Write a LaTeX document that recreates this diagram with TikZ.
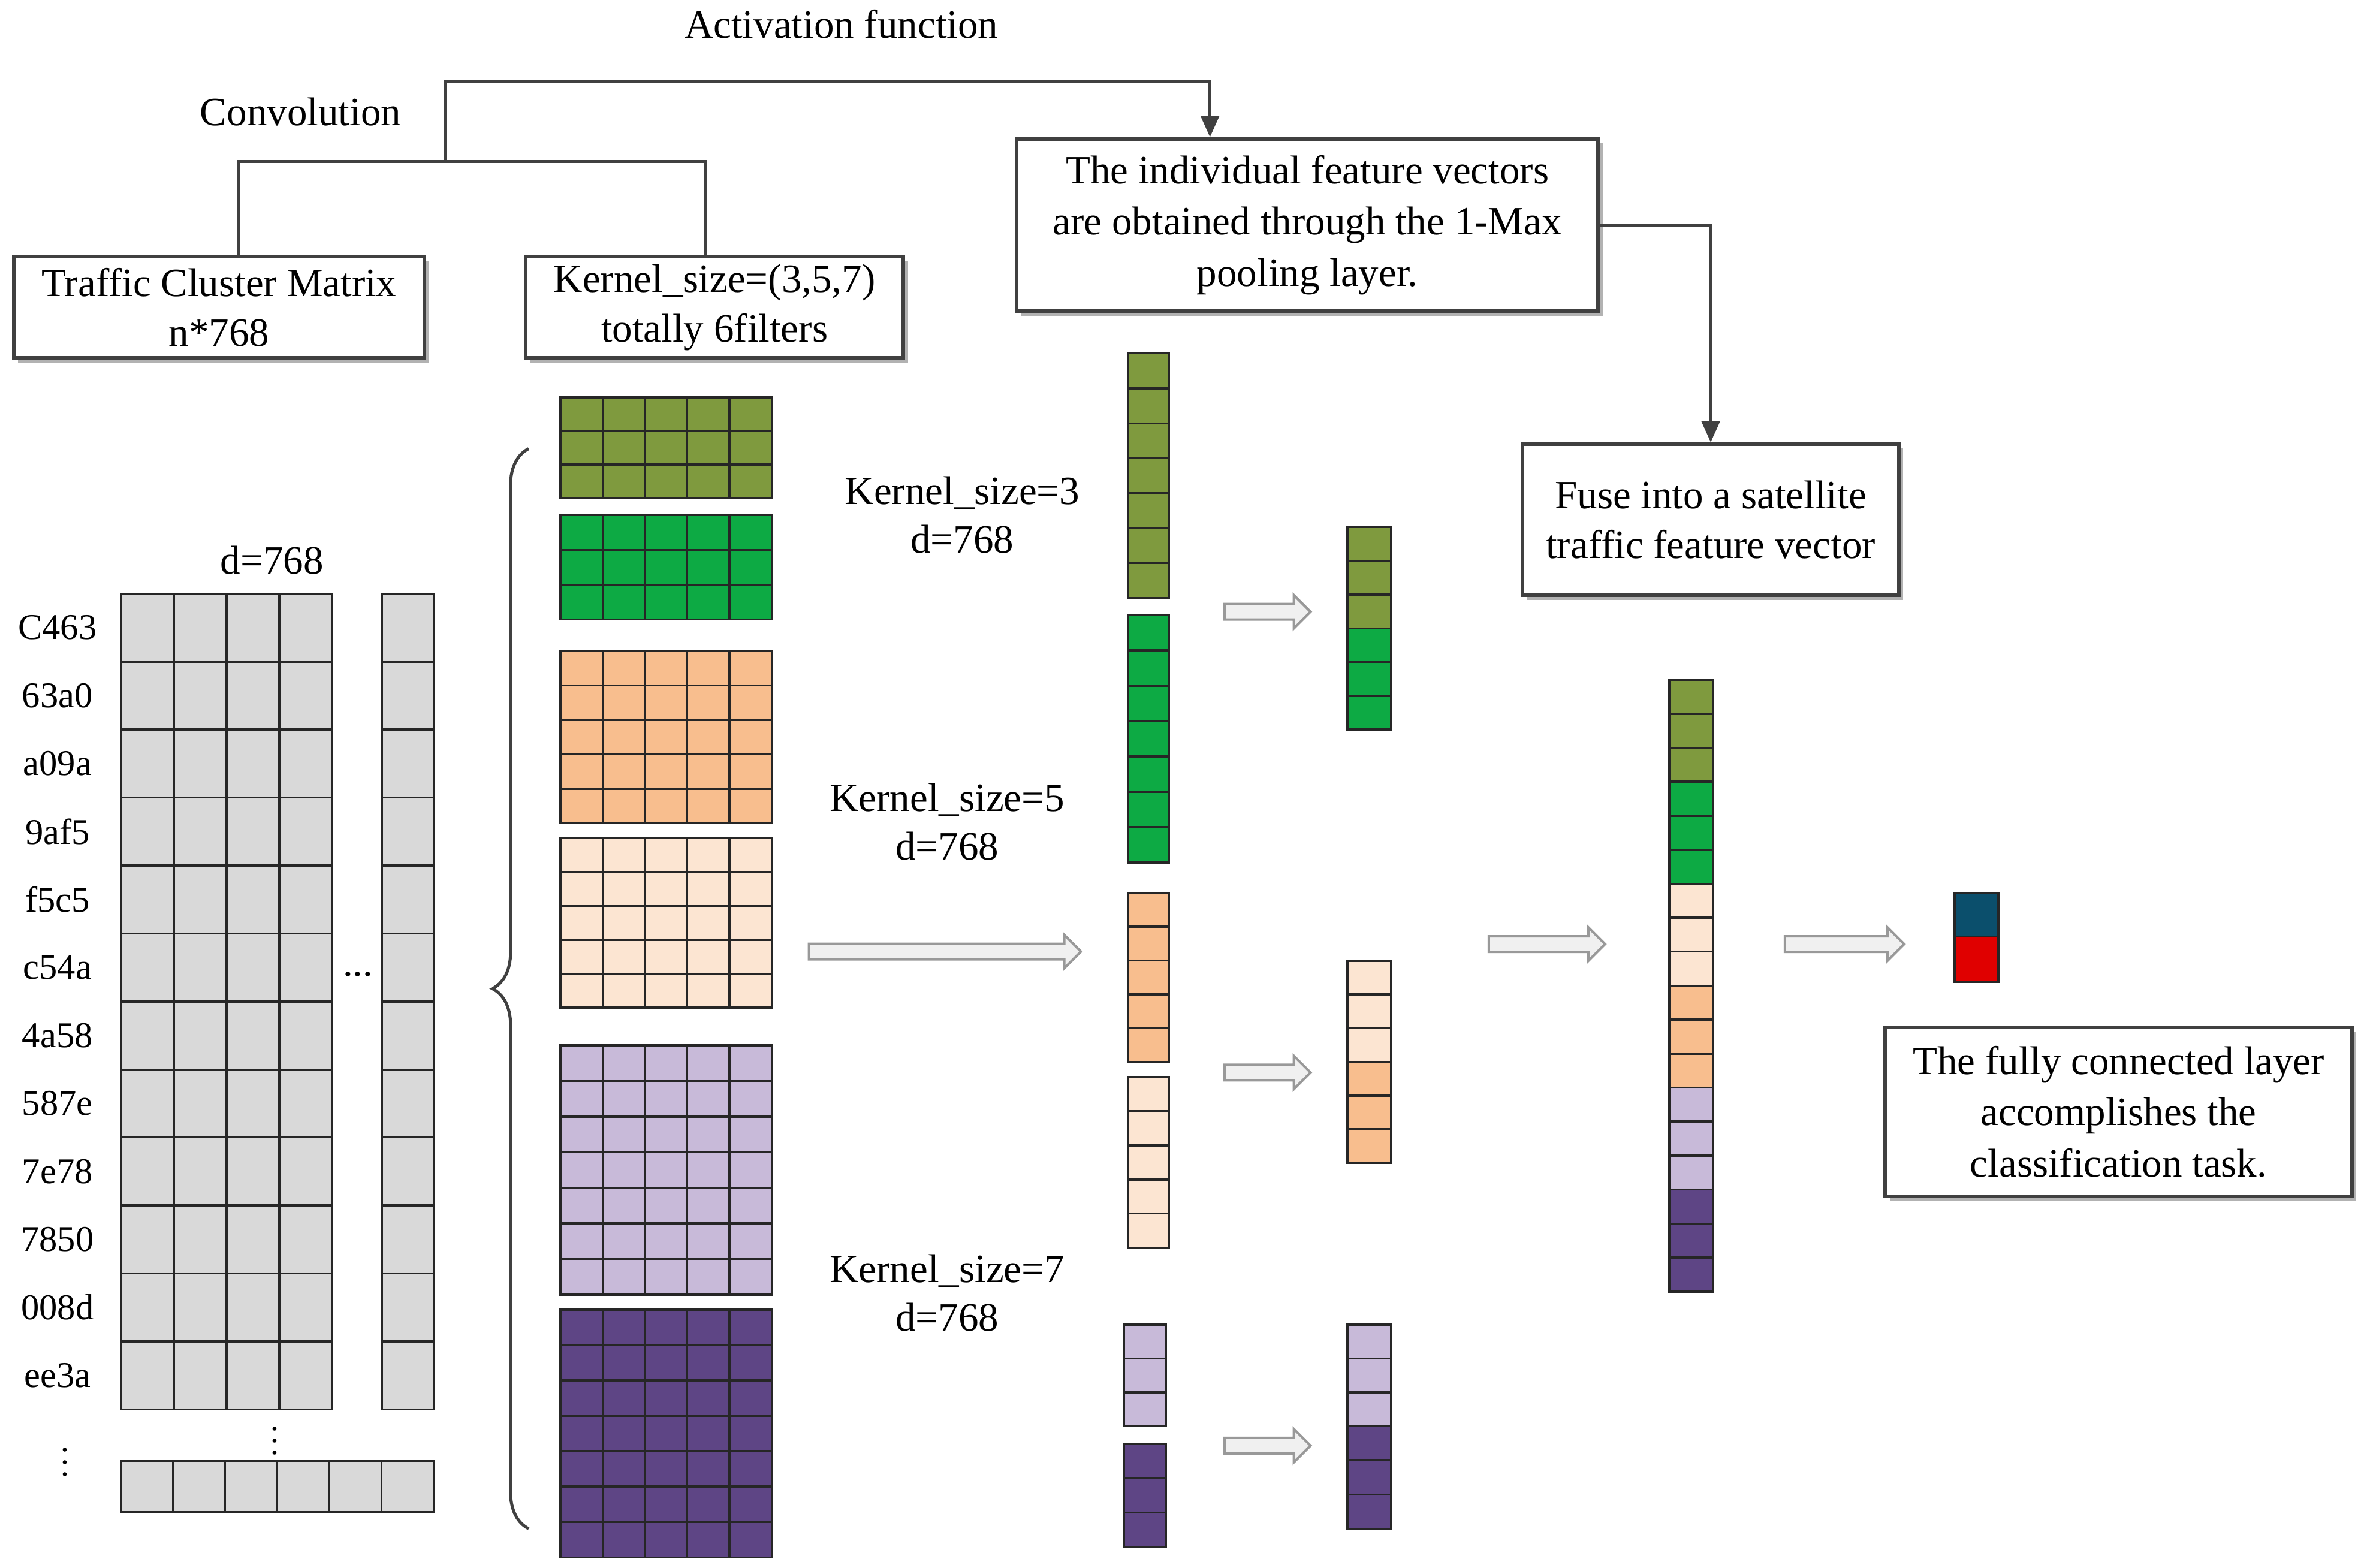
\documentclass[tikz,border=0pt]{standalone}
\usepackage{fontspec}
\setmainfont{Liberation Serif}
\usetikzlibrary{shadows,shapes.arrows,arrows.meta,decorations.pathreplacing}
\definecolor{olive}{HTML}{7F9A3E}
\definecolor{grn}{HTML}{0DAA44}
\definecolor{peach}{HTML}{F8BE8E}
\definecolor{lpeach}{HTML}{FCE5D2}
\definecolor{lav}{HTML}{C8BAD9}
\definecolor{purp}{HTML}{5E4585}
\definecolor{cellgray}{HTML}{D9D9D9}
\definecolor{oblue}{HTML}{0B4F6C}
\definecolor{ored}{HTML}{E00000}
\tikzset{
 box/.style={draw=black!75,line width=1.2pt,fill=white,align=center,font=\fontsize{13.3}{16.5}\selectfont,
   drop shadow={shadow xshift=1.5pt,shadow yshift=-1.5pt,fill=gray!60,opacity=1},inner sep=0},
 lbl/.style={align=center,font=\fontsize{13.3}{16}\selectfont},
 conn/.style={draw=black!75,line width=1pt},
 harrow/.style={single arrow,draw=gray!80,fill=gray!12,line width=0.8pt,minimum width=11pt,
   single arrow head extend=2.5pt,single arrow head indent=0pt,inner sep=1.8pt,shape border rotate=0},
 cell/.style={draw=black!85,line width=0.7pt}
}
% grid: x left, y top, cell width, cell height, rows, cols, color
\newcommand\mygrid[7]{%
 \foreach \j in {1,...,#6}{\foreach \i in {1,...,#5}{%
  \pgfmathsetmacro\xa{#1+(\j-1)*#3}\pgfmathsetmacro\xb{#1+\j*#3}%
  \pgfmathsetmacro\ya{#2+(\i-1)*#4}\pgfmathsetmacro\yb{#2+\i*#4}%
  \fill[#7,cell] (\xa,\ya) rectangle (\xb,\yb);}}}
\newcommand\mystack[6]{\mygrid{#1}{#2}{#3}{#4}{#5}{1}{#6}}
\begin{document}
\begin{tikzpicture}[x=0.5pt,y=-0.5pt]
\useasboundingbox (0,0) rectangle (1563,1038);
\node[lbl] (act) at (557,16) {Activation function};
\node[lbl] (conv) at (199,74) {Convolution};
\node[box,minimum width=136pt,minimum height=33.5pt] (b1) at (145,203.5) {Traffic Cluster Matrix\\n*768};
\node[box,minimum width=125pt,minimum height=33.5pt] (b2) at (473,203.5) {Kernel\_size=(3,5,7)\\totally 6filters};
\node[box,minimum width=192.5pt,minimum height=57pt,font=\fontsize{13.3}{17}\selectfont] (b3) at (865.5,149) {The individual feature vectors\\are obtained through the 1-Max\\pooling layer.};
\node[box,minimum width=124.5pt,minimum height=50pt] (b4) at (1132.5,344) {Fuse into a satellite\\traffic feature vector};
\node[box,minimum width=154.5pt,minimum height=56pt,font=\fontsize{13.3}{17}\selectfont] (b5) at (1402.5,736) {The fully connected layer\\accomplishes the\\classification task.};
\coordinate (cj) at (295,107);
\draw[conn] (b1.north -| 158,0) -- (158,107) -- (467,107) -- (b2.north -| 467,0);
\draw[conn,-{Triangle[length=7pt,width=6pt]}] (cj) -- (295,54) -- (801,54) -- (b3.north -| 801,0);
\draw[conn,-{Triangle[length=7pt,width=6pt]}] (b3.east) -| (b4.north);
% matrix
\mygrid{80}{393}{35}{45}{12}{4}{cellgray}
\mystack{253}{393}{34}{45}{12}{cellgray}
\mygrid{80}{967}{34.5}{34}{1}{6}{cellgray}
\node[lbl] at (180,371) {d=768};
\foreach \t [count=\k] in {C463,63a0,a09a,9af5,f5c5,c54a,4a58,587e,7e78,7850,008d,ee3a}
  \node[lbl,font=\fontsize{12}{14}\selectfont] at (38,{393+(\k-0.5)*45}) {\t};
\node[lbl] at (237,645) {...};
\node[inner sep=0,font=\fontsize{11}{11}\selectfont] at (182,948) {$\vdots$};
\node[inner sep=0,font=\fontsize{11}{11}\selectfont] at (43,962) {$\vdots$};
% filters
\mygrid{371}{263}{28}{22.3}{3}{5}{olive}
\mygrid{371}{341}{28}{23}{3}{5}{grn}
\mygrid{371}{431}{28}{22.8}{5}{5}{peach}
\mygrid{371}{555}{28}{22.4}{5}{5}{lpeach}
\mygrid{371}{692}{28}{23.57}{7}{5}{lav}
\mygrid{371}{867}{28}{23.43}{7}{5}{purp}
\draw[line width=1pt,black!75,decorate,decoration={brace,amplitude=12pt}] (350,1012) -- (350,297);
\node[lbl] at (637,341) {Kernel\_size=3\\d=768};
\node[lbl] at (627,544) {Kernel\_size=5\\d=768};
\node[lbl] at (627,856) {Kernel\_size=7\\d=768};
% conv vectors
\mystack{747}{234}{27}{23.14}{7}{olive}
\mystack{747}{407}{27}{23.43}{7}{grn}
\mystack{747}{591}{27}{22.4}{5}{peach}
\mystack{747}{713}{27}{22.6}{5}{lpeach}
\mystack{744}{877}{28}{22.33}{3}{lav}
\mystack{744}{956}{28}{22.67}{3}{purp}
% pooled
\mystack{892}{349}{29}{22.33}{3}{olive}
\mystack{892}{416}{29}{22.33}{3}{grn}
\mystack{892}{636}{29}{22.33}{3}{lpeach}
\mystack{892}{703}{29}{22.33}{3}{peach}
\mystack{892}{877}{29}{22.33}{3}{lav}
\mystack{892}{944}{29}{22.67}{3}{purp}
% fused
\mystack{1105}{450}{29}{22.5}{3}{olive}
\mystack{1105}{517.5}{29}{22.5}{3}{grn}
\mystack{1105}{585}{29}{22.5}{3}{lpeach}
\mystack{1105}{652.5}{29}{22.5}{3}{peach}
\mystack{1105}{720}{29}{22.5}{3}{lav}
\mystack{1105}{787.5}{29}{22.5}{3}{purp}
% output
\fill[oblue,cell] (1294,591) rectangle (1323,620);
\fill[ored,cell] (1294,620) rectangle (1323,650);
% hollow arrows
\node[harrow,minimum height=90pt] (a1) at (623,630) {};
\node[harrow,minimum height=28.5pt] (a2) at (836.5,405) {};
\node[harrow,minimum height=28.5pt] (a3) at (836.5,710) {};
\node[harrow,minimum height=28.5pt] (a4) at (836.5,957) {};
\node[harrow,minimum height=38.5pt] (a5) at (1021.5,625) {};
\node[harrow,minimum height=39.5pt] (a6) at (1218.5,625) {};
\end{tikzpicture}
\end{document}
